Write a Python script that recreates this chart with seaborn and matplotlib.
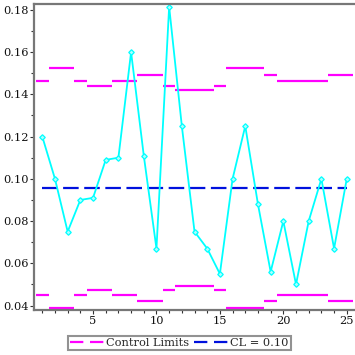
import numpy as np
import pandas as pd
import matplotlib.pyplot as plt
import seaborn as sns
from matplotlib.lines import Line2D

sns.set_theme(style="white")
plt.rcParams['font.family'] = ['DejaVu Serif']

# ── data ────────────────────────────────────────────────────────────────────
samples = list(range(1, 26))
proportion = [0.120, 0.100, 0.075, 0.090, 0.091, 0.109, 0.110, 0.160, 0.111, 0.067,
              0.1815, 0.125, 0.075, 0.067, 0.055, 0.100, 0.125, 0.088, 0.056, 0.080,
              0.050, 0.080, 0.100, 0.067, 0.100]
ucl = [0.1465, 0.1525, 0.1525, 0.1465, 0.144, 0.144, 0.1465, 0.1465, 0.1492, 0.1492,
       0.144, 0.142, 0.142, 0.142, 0.144, 0.1525, 0.1525, 0.1525, 0.1492, 0.1465,
       0.1465, 0.1465, 0.1465, 0.1492, 0.1492]
lcl = [0.045, 0.039, 0.039, 0.045, 0.0473, 0.0473, 0.045, 0.045, 0.0422, 0.0422,
       0.0473, 0.0493, 0.0493, 0.0493, 0.0473, 0.039, 0.039, 0.039, 0.0422, 0.045,
       0.045, 0.045, 0.045, 0.0422, 0.0422]
center_line = 0.0957

df = pd.DataFrame({'sample': samples, 'p': proportion, 'ucl': ucl, 'lcl': lcl})

MAGENTA = '#ff00ff'
CYAN = '#00ffff'
BLUE = '#0011dd'
GREY = '#777777'

fig = plt.figure(figsize=(3.55, 3.55), dpi=100)
ax = fig.add_axes([0.0966, 0.1268, 0.9034, 0.862])

# control limits, one step per sample
ax.hlines(df['ucl'], df['sample'] - 0.5, df['sample'] + 0.5, color=MAGENTA, lw=1.6)
ax.hlines(df['lcl'], df['sample'] - 0.5, df['sample'] + 0.5, color=MAGENTA, lw=1.6)

# centre line
ax.plot([samples[0], samples[-1]], [center_line, center_line], color=BLUE, lw=1.6,
        dashes=(7, 2.5))

# sample proportions
sns.lineplot(data=df, x='sample', y='p', ax=ax, color=CYAN, lw=1.3,
             marker='D', markersize=2.8, markerfacecolor='#aaffff',
             markeredgecolor=CYAN, markeredgewidth=0.9)

ax.set_xlim(0.37, 25.65)
ax.set_ylim(0.0379, 0.1828)
ax.set_xticks([5, 10, 15, 20, 25])
ax.set_xticks(range(1, 26), minor=True)
ax.set_yticks([0.04, 0.06, 0.08, 0.10, 0.12, 0.14, 0.16, 0.18])
ax.set_yticks(np.arange(0.04, 0.185, 0.01), minor=True)
ax.set_yticklabels(['0.04', '0.06', '0.08', '0.10', '0.12', '0.14', '0.16', '0.18'])
ax.set_xlabel('')
ax.set_ylabel('')

ax.tick_params(axis='both', which='both', direction='out', color='#333333',
               labelsize=8.2, labelcolor='#111111', pad=1.2)
ax.tick_params(axis='both', which='major', length=3, width=0.8)
ax.tick_params(axis='both', which='minor', length=2.5, width=0.8)
ax.xaxis.set_ticks_position('bottom')
ax.yaxis.set_ticks_position('left')

for side in ['left', 'bottom', 'top']:
    ax.spines[side].set_color(GREY)
    ax.spines[side].set_linewidth(1.6)
ax.spines['right'].set_visible(False)

handles = [Line2D([], [], color=MAGENTA, lw=1.6, dashes=(6, 3)),
           Line2D([], [], color=BLUE, lw=1.6, dashes=(6, 3))]
leg = fig.legend(handles, ['Control Limits', 'CL = 0.10'], loc='center',
                 bbox_to_anchor=(0.505, 0.034), ncol=2, frameon=True,
                 fancybox=False, fontsize=8.2, handlelength=3.0,
                 handletextpad=0.2, columnspacing=0.4, borderpad=0.2,
                 borderaxespad=0)
leg.get_frame().set_edgecolor(GREY)
leg.get_frame().set_linewidth(1.5)

fig.savefig('out.png', dpi=100)
